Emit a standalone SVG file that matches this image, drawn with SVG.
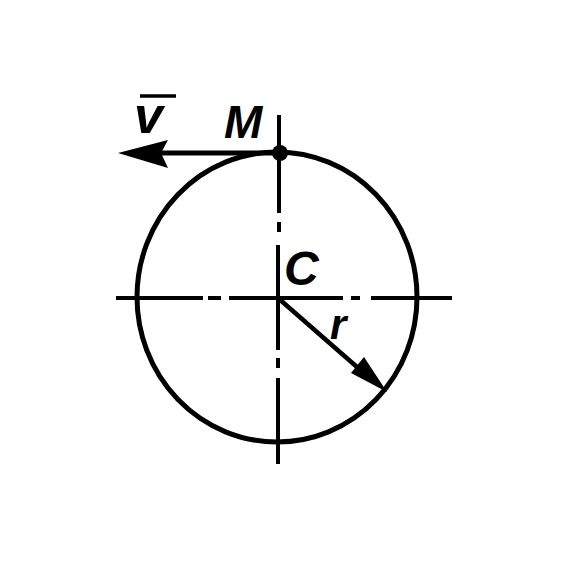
<svg xmlns="http://www.w3.org/2000/svg" width="576" height="562" viewBox="0 0 576 562">
<style>
.ax{stroke:#000;stroke-width:4;fill:none;stroke-linecap:butt}
.lbl{font-family:"Liberation Sans",Arial,sans-serif;font-style:italic;font-weight:bold;fill:#000}
</style>
<rect width="576" height="562" fill="#fff"/>
<g id="axes">
<line class="ax" x1="116" y1="298" x2="203" y2="298"/>
<line class="ax" x1="208" y1="298" x2="221" y2="298"/>
<line class="ax" x1="229" y1="298" x2="343" y2="298"/>
<line class="ax" x1="351" y1="298" x2="360" y2="298"/>
<line class="ax" x1="371" y1="298" x2="452" y2="298"/>
<line class="ax" x1="279" y1="115" x2="279" y2="213"/>
<line class="ax" x1="279" y1="222" x2="279" y2="232"/>
<line class="ax" x1="278" y1="245" x2="278" y2="350"/>
<line class="ax" x1="278" y1="358" x2="278" y2="368"/>
<line class="ax" x1="278" y1="378" x2="278" y2="464"/>
</g>
<g id="circle">
<ellipse cx="277" cy="297" rx="140" ry="145" fill="none" stroke="#000" stroke-width="5"/>
</g>
<g id="connectors">
<line x1="280" y1="153" x2="150" y2="153" stroke="#000" stroke-width="5"/>
<path d="M118,153 L168,140 L161,153 L168,168 Z" fill="#000"/>
<line x1="278" y1="298" x2="365" y2="374" stroke="#000" stroke-width="4.5"/>
<path d="M387,392 L351,373 L364,357 Z" fill="#000"/>
</g>
<g id="M">
<circle cx="280" cy="153" r="8" fill="#000"/>
<text class="lbl" x="224" y="138" font-size="46">M</text>
</g>
<g id="v">
<text class="lbl" x="134" y="133" font-size="52">v</text>
<line x1="140" y1="96" x2="176" y2="96" stroke="#000" stroke-width="3.5"/>
</g>
<g id="C">
<text class="lbl" x="284" y="285" font-size="48">C</text>
</g>
<g id="r">
<text class="lbl" x="330" y="339" font-size="42">r</text>
</g>
</svg>
